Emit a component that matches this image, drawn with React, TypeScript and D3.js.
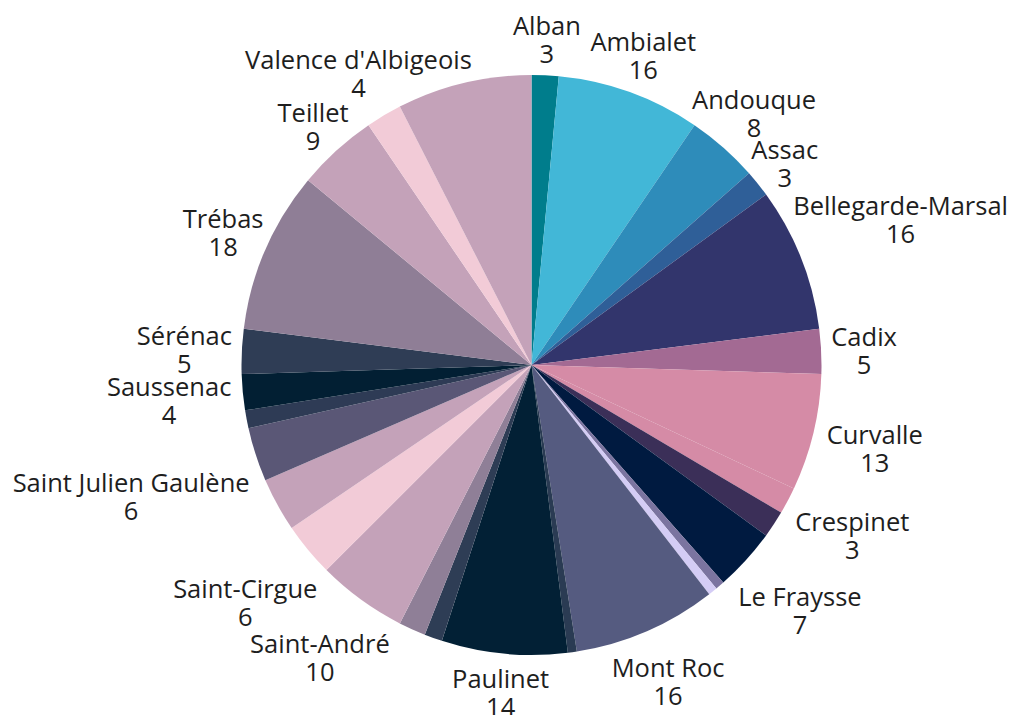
import * as d3 from "d3";
import React, { useMemo } from "react";

// slices, clockwise from 12 o'clock ("" = no label shown on the chart)
const communes = [
  "Alban", "Ambialet", "Andouque", "Assac", "Bellegarde-Marsal", "Cadix",
  "Curvalle", "Crespinet", "", "Le Fraysse", "", "", "Mont Roc", "",
  "Paulinet", "", "", "Saint-André", "Saint-Cirgue", "", "Saint Julien Gaulène",
  "", "Saussenac", "Sérénac", "Trébas", "Teillet", "Valence d'Albigeois", "",
];
const counts = [
  3, 16, 8, 3, 16, 5,
  13, 3, 3, 7, 1, 1, 16, 1,
  14, 2, 3, 10, 6, 6, 6,
  2, 4, 5, 18, 9, 4, 15,
];
const colors = [
  "#007d8c", "#42b7d7", "#2e8cba", "#2f5f98", "#32356c", "#a36a93",
  "#d58ba6", "#d58ba6", "#3b2f58", "#001a40", "#7b74a0", "#d4ccf5", "#555b80", "#2a3b53",
  "#022035", "#2e3d55", "#8f7f97", "#c4a2b9", "#f2cbd7", "#c4a2b9", "#5a5776",
  "#2e3b55", "#021f33", "#2f3d55", "#8f7e96", "#c4a2b9", "#f2cbd7", "#c4a2b9",
];

const WIDTH = 1014;
const HEIGHT = 715;
const CX = 531.5;
const CY = 365;
const RADIUS = 290;
const LABEL_CLEAR = 300;
const FONT_SIZE = 25.5;
const LINE_GAP = 28;

const measurer = document.createElement("canvas").getContext("2d");
function textWidth(s: string) {
  if (!measurer) return s.length * 13;
  measurer.font = `${FONT_SIZE}px "Open Sans"`;
  return measurer.measureText(s).width;
}

function rectDist(x0: number, x1: number, y0: number, y1: number) {
  const dx = Math.max(x0, 0, -x1);
  const dy = Math.max(y0, 0, -y1);
  return Math.hypot(dx, dy);
}

// push the two-line label out along the slice's mid angle until no line box touches the clear circle
function placeLabel(angle: number, name: string, value: string) {
  const ux = Math.sin(angle);
  const uy = -Math.cos(angle);
  const lines = [
    { w: textWidth(name), off: -LINE_GAP / 2 },
    { w: textWidth(value), off: LINE_GAP / 2 },
  ];
  let d = RADIUS - 20;
  for (; d < 700; d += 0.5) {
    const x = d * ux;
    const y = d * uy;
    const dist = Math.min(
      ...lines.map((l) => {
        const base = y + l.off + 10.5;
        return rectDist(x - l.w / 2, x + l.w / 2, base - 23, base + 2);
      })
    );
    if (dist >= LABEL_CLEAR) break;
  }
  return {
    x: d * ux,
    nameY: d * uy - LINE_GAP / 2 + 10.5,
    valueY: d * uy + LINE_GAP / 2 + 10.5,
  };
}

const App: React.FC = () => {
  const arcs = useMemo(
    () =>
      d3.pie<number>().sort(null).value((v) => v).startAngle(0).endAngle(2 * Math.PI)(counts),
    []
  );
  const arc = d3.arc<d3.PieArcDatum<number>>().innerRadius(0).outerRadius(RADIUS);

  return (
    <svg
      width={WIDTH}
      height={HEIGHT}
      style={{ position: "absolute", left: 0, top: 0, background: "#fff" }}
    >
      <g transform={`translate(${CX},${CY})`}>
        {arcs.map((a, i) => (
          <path key={i} d={arc(a) || ""} fill={colors[i]} />
        ))}
        {arcs.map((a, i) => {
          if (!communes[i]) return null;
          const p = placeLabel((a.startAngle + a.endAngle) / 2, communes[i], String(counts[i]));
          return (
            <g
              key={"l" + i}
              fontFamily='"Open Sans", sans-serif'
              fontSize={FONT_SIZE}
              fill="#1e1e1e"
              textAnchor="middle"
            >
              <text x={p.x} y={p.nameY}>{communes[i]}</text>
              <text x={p.x} y={p.valueY}>{counts[i]}</text>
            </g>
          );
        })}
      </g>
    </svg>
  );
};

export default App;
